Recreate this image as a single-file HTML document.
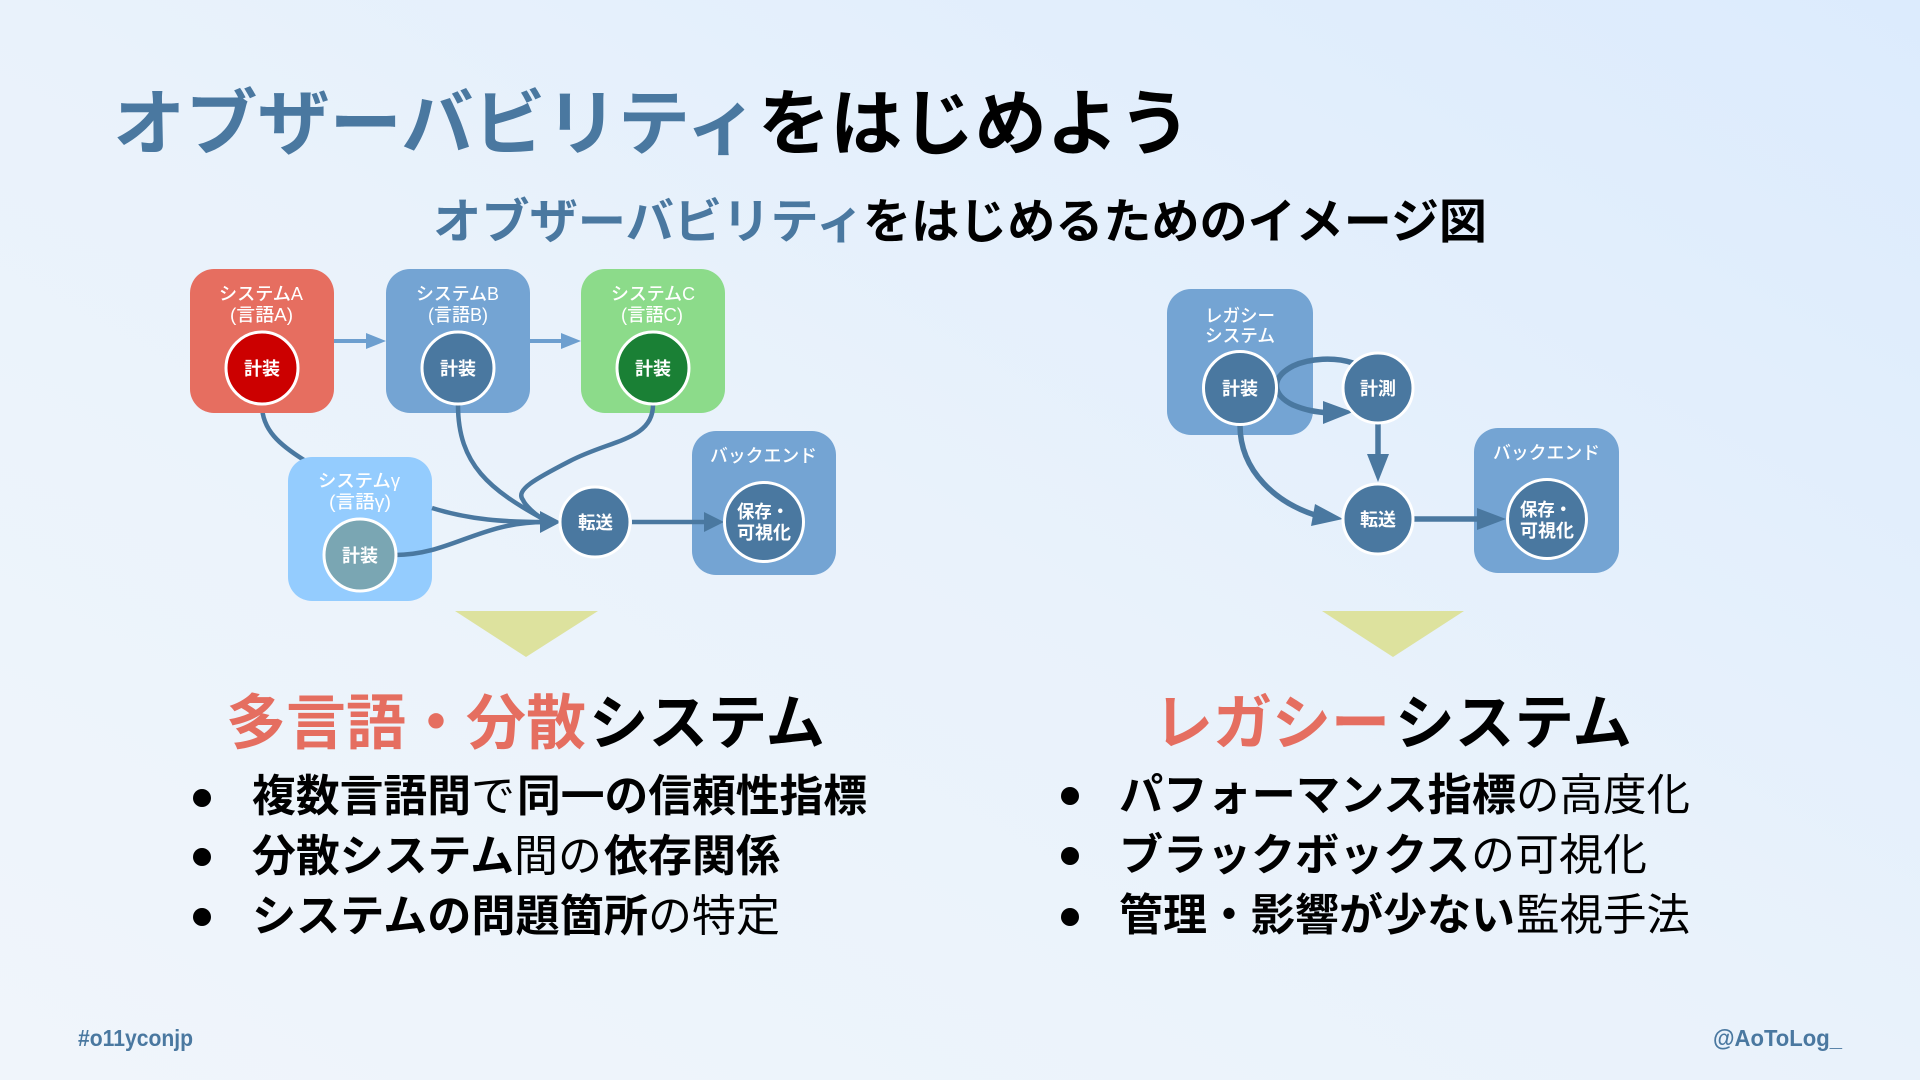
<!DOCTYPE html>
<html lang="ja"><head><meta charset="utf-8"><title>オブザーバビリティをはじめよう</title>
<style>
html,body{margin:0;padding:0;width:1920px;height:1080px;overflow:hidden}
body{background:linear-gradient(to top right,#f0f5fb 0%,#e9f2fb 50%,#dcebfd 100%)}
svg{display:block}
text{font-family:"Liberation Sans","Noto Sans CJK JP",sans-serif;font-weight:700}
.w{fill:#fff;font-size:18px}
.l{fill:#fff;font-size:18px;font-weight:500}
.b{fill:#4a78a0}
.k{fill:#000}
.r{fill:#e56e60}
.t{font-size:72px}
.s{font-size:48px}
.h{font-size:60px}
.p{font-size:44px}
.n{font-weight:400}
.f{font-size:23px;fill:#4a78a0;font-weight:700}
.e{fill:none;stroke:#4a78a0;stroke-width:4.5}
.e2{fill:none;stroke:#4a78a0;stroke-width:5.5}
</style></head><body>
<svg width="1920" height="1080" viewBox="0 0 1920 1080" xmlns="http://www.w3.org/2000/svg">
<!-- titles -->
<text class="t b" x="113" y="149" textLength="645" lengthAdjust="spacingAndGlyphs">オブザーバビリティ</text>
<text class="t k" x="758" y="149" textLength="433" lengthAdjust="spacingAndGlyphs">をはじめよう</text>
<text class="s b" x="433" y="238" textLength="431" lengthAdjust="spacingAndGlyphs">オブザーバビリティ</text>
<text class="s k" x="863" y="238" textLength="624" lengthAdjust="spacingAndGlyphs">をはじめるためのイメージ図</text>

<!-- left diagram -->
<path class="e" d="M262,405 C262,430 280,445 304,460"/>
<rect x="190" y="269" width="144" height="144" rx="24" fill="#e66e60"/>
<rect x="386" y="269" width="144" height="144" rx="24" fill="#74a4d3"/>
<rect x="581" y="269" width="144" height="144" rx="24" fill="#8cdb8a"/>
<rect x="288" y="457" width="144" height="144" rx="24" fill="#94ccfe"/>
<rect x="692" y="431" width="144" height="144" rx="24" fill="#74a4d3"/>
<path d="M334,341H368" stroke="#6d9fcf" stroke-width="4" fill="none"/><polygon points="366,333 386,341 366,349" fill="#6d9fcf"/>
<path d="M530,341H563" stroke="#6d9fcf" stroke-width="4" fill="none"/><polygon points="561,333 581,341 561,349" fill="#6d9fcf"/>
<path class="e" d="M458,405 C458,465 490,490 545,520"/>
<path class="e" d="M653,405 C653,440 610,440 570,461 C535,479 515,490 523,500 C525,505 535,515 545,520"/>
<path class="e" d="M432,508 C470,520 505,522 545,522"/>
<path class="e" d="M395,555 C450,555 480,522 545,522"/>
<polygon points="540,511 561,522 540,533" fill="#4a78a0"/>
<path class="e" d="M632,522H706"/><polygon points="704,512 724,522 704,532" fill="#4a78a0"/>
<circle cx="262" cy="368" r="36" fill="#cc0000" stroke="#fff" stroke-width="3"/>
<circle cx="458" cy="368" r="36" fill="#4a78a0" stroke="#fff" stroke-width="3"/>
<circle cx="653" cy="368" r="36" fill="#1a8035" stroke="#fff" stroke-width="3"/>
<circle cx="360" cy="555" r="36" fill="#7aa6b3" stroke="#fff" stroke-width="3"/>
<circle cx="595" cy="522" r="35" fill="#4a78a0" stroke="#fff" stroke-width="3"/>
<circle cx="764" cy="522" r="39.5" fill="#4a78a0" stroke="#fff" stroke-width="3"/>
<text class="l" x="219" y="300" textLength="84" lengthAdjust="spacingAndGlyphs">システムA</text>
<text class="l" x="230" y="321" textLength="63" lengthAdjust="spacingAndGlyphs">(言語A)</text>
<text class="l" x="416" y="300" textLength="83" lengthAdjust="spacingAndGlyphs">システムB</text>
<text class="l" x="428" y="321" textLength="60" lengthAdjust="spacingAndGlyphs">(言語B)</text>
<text class="l" x="611" y="300" textLength="84" lengthAdjust="spacingAndGlyphs">システムC</text>
<text class="l" x="621" y="321" textLength="62" lengthAdjust="spacingAndGlyphs">(言語C)</text>
<text class="l" x="318" y="487" textLength="82" lengthAdjust="spacingAndGlyphs">システムγ</text>
<text class="l" x="329" y="508" textLength="62" lengthAdjust="spacingAndGlyphs">(言語γ)</text>
<text class="l" x="710" y="462" textLength="107" lengthAdjust="spacingAndGlyphs">バックエンド</text>
<text class="w" x="244" y="375" textLength="36" lengthAdjust="spacingAndGlyphs">計装</text>
<text class="w" x="440" y="375" textLength="36" lengthAdjust="spacingAndGlyphs">計装</text>
<text class="w" x="635" y="375" textLength="36" lengthAdjust="spacingAndGlyphs">計装</text>
<text class="w" x="342" y="562" textLength="36" lengthAdjust="spacingAndGlyphs">計装</text>
<text class="w" x="578" y="529" textLength="35" lengthAdjust="spacingAndGlyphs">転送</text>
<text class="w" x="737" y="518" textLength="52" lengthAdjust="spacingAndGlyphs">保存・</text>
<text class="w" x="737" y="539" textLength="54" lengthAdjust="spacingAndGlyphs">可視化</text>
<polygon points="455,611 598,611 526,657" fill="#dde29e"/>

<!-- right diagram -->
<rect x="1167" y="289" width="146" height="146" rx="24" fill="#74a4d3"/>
<rect x="1474" y="428" width="145" height="145" rx="24" fill="#74a4d3"/>
<path class="e2" d="M1353,363 C1335,357 1310,358 1293,366 C1270,378 1272,395 1293,405 C1305,410 1315,412 1330,413"/>
<polygon points="1323,401 1353,412 1323,424" fill="#4a78a0"/>
<path class="e2" d="M1378,424V456"/><polygon points="1367,454 1389,454 1378,482" fill="#4a78a0"/>
<path class="e2" d="M1240,425 C1240,470 1275,505 1325,518"/>
<polygon points="1315,504 1343,519 1311,526" fill="#4a78a0"/>
<path class="e2" d="M1413,519H1480"/><polygon points="1477,508 1506,519 1477,530" fill="#4a78a0"/>
<circle cx="1240" cy="388" r="36.5" fill="#4a78a0" stroke="#fff" stroke-width="3"/>
<circle cx="1378" cy="388" r="35" fill="#4a78a0" stroke="#fff" stroke-width="3"/>
<circle cx="1378" cy="519" r="35" fill="#4a78a0" stroke="#fff" stroke-width="3"/>
<circle cx="1547" cy="519" r="39.5" fill="#4a78a0" stroke="#fff" stroke-width="3"/>
<text class="l" x="1205" y="322" textLength="70" lengthAdjust="spacingAndGlyphs">レガシー</text>
<text class="l" x="1205" y="342" textLength="70" lengthAdjust="spacingAndGlyphs">システム</text>
<text class="l" x="1493" y="459" textLength="107" lengthAdjust="spacingAndGlyphs">バックエンド</text>
<text class="w" x="1222" y="395" textLength="36" lengthAdjust="spacingAndGlyphs">計装</text>
<text class="w" x="1360" y="395" textLength="36" lengthAdjust="spacingAndGlyphs">計測</text>
<text class="w" x="1360" y="526" textLength="36" lengthAdjust="spacingAndGlyphs">転送</text>
<text class="w" x="1520" y="516" textLength="52" lengthAdjust="spacingAndGlyphs">保存・</text>
<text class="w" x="1520" y="537" textLength="54" lengthAdjust="spacingAndGlyphs">可視化</text>
<polygon points="1322,611 1464,611 1393,657" fill="#dde29e"/>

<!-- headings -->
<text class="h r" x="226" y="744" textLength="360" lengthAdjust="spacingAndGlyphs">多言語・分散</text>
<text class="h k" x="589" y="744" textLength="236" lengthAdjust="spacingAndGlyphs">システム</text>
<text class="h r" x="1154" y="744" textLength="236" lengthAdjust="spacingAndGlyphs">レガシー</text>
<text class="h k" x="1395" y="744" textLength="237" lengthAdjust="spacingAndGlyphs">システム</text>

<!-- left bullets -->
<circle cx="202" cy="798" r="9"/><circle cx="202" cy="857" r="9"/><circle cx="202" cy="917" r="9"/>
<text class="p k" x="252" y="811" textLength="219" lengthAdjust="spacingAndGlyphs">複数言語間</text>
<text class="p k n" x="471" y="811" textLength="44" lengthAdjust="spacingAndGlyphs">で</text>
<text class="p k" x="517" y="811" textLength="350" lengthAdjust="spacingAndGlyphs">同一の信頼性指標</text>
<text class="p k" x="252" y="871" textLength="262" lengthAdjust="spacingAndGlyphs">分散システム</text>
<text class="p k n" x="514" y="871" textLength="88" lengthAdjust="spacingAndGlyphs">間の</text>
<text class="p k" x="604" y="871" textLength="176" lengthAdjust="spacingAndGlyphs">依存関係</text>
<text class="p k" x="252" y="931" textLength="396" lengthAdjust="spacingAndGlyphs">システムの問題箇所</text>
<text class="p k n" x="648" y="931" textLength="132" lengthAdjust="spacingAndGlyphs">の特定</text>

<!-- right bullets -->
<circle cx="1070" cy="796" r="9"/><circle cx="1070" cy="856" r="9"/><circle cx="1070" cy="917" r="9"/>
<text class="p k" x="1119" y="810" textLength="397" lengthAdjust="spacingAndGlyphs">パフォーマンス指標</text>
<text class="p k n" x="1516" y="810" textLength="174" lengthAdjust="spacingAndGlyphs">の高度化</text>
<text class="p k" x="1119" y="870" textLength="351" lengthAdjust="spacingAndGlyphs">ブラックボックス</text>
<text class="p k n" x="1471" y="870" textLength="176" lengthAdjust="spacingAndGlyphs">の可視化</text>
<text class="p k" x="1119" y="930" textLength="396" lengthAdjust="spacingAndGlyphs">管理・影響が少ない</text>
<text class="p k n" x="1516" y="930" textLength="174" lengthAdjust="spacingAndGlyphs">監視手法</text>

<!-- footer -->
<text class="f" x="78" y="1046" textLength="115" lengthAdjust="spacingAndGlyphs">#o11yconjp</text>
<text class="f" x="1713" y="1046" textLength="129" lengthAdjust="spacingAndGlyphs">@AoToLog_</text>
</svg>
</body></html>
